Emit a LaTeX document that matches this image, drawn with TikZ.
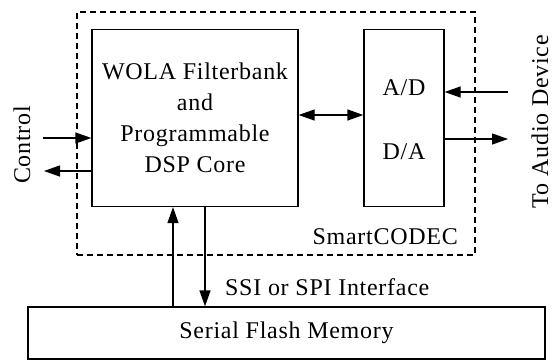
\documentclass[tikz,border=0pt]{standalone}
\usepackage{fontspec}
\setmainfont[LetterSpace=3]{Liberation Serif}
\usetikzlibrary{arrows.meta}
\begin{document}
\begin{tikzpicture}[x=1pt,y=-1pt,
  every node/.style={font=\fontsize{24}{31}\selectfont, inner sep=0pt},
  block/.style={draw, line width=1.3pt, minimum width=#1},
  arr/.style={line width=1.3pt, -{Triangle[length=16pt,width=11pt]}},
  dblarr/.style={line width=1.3pt, {Triangle[length=16pt,width=11pt]}-{Triangle[length=16pt,width=11pt]}}]
  \useasboundingbox (0,0) rectangle (557,360);
  % SmartCODEC boundary
  \node[draw, dashed, dash pattern=on 6pt off 4pt, line width=1.4pt,
        minimum width=398pt, minimum height=243pt] (chip) at (276,133.5) {};
  \node[anchor=east] (chipname) at (458,237) {SmartCODEC};
  % DSP core and converters
  \node[block=206pt, minimum height=177pt, align=center] (dsp) at (195,118)
    {WOLA Filterbank\\and\\Programmable\\DSP Core};
  \node[block=80pt, minimum height=177pt] (codec) at (404,118) {};
  \node (ad) at (404,88) {A/D};
  \node (da) at (404,152) {D/A};
  % external flash
  \node[block=517pt, minimum height=52pt] (flash) at (286.5,333) {Serial Flash Memory};
  % converter link
  \draw[dblarr] (dsp.east |- 0,115) -- (codec.west |- 0,115);
  % audio signals
  \coordinate (ain) at (508,92);
  \coordinate (aout) at (508,139);
  \draw[arr] (ain) -- (ain -| codec.east);
  \draw[arr] (codec.east |- aout) -- (aout);
  \node[rotate=90] (audio) at (540,122) {To Audio Device};
  % control lines
  \coordinate (cin) at (43,138);
  \coordinate (cout) at (44,171);
  \draw[arr] (cin) -- (cin -| dsp.west);
  \draw[arr] (dsp.west |- cout) -- (cout);
  \node[rotate=90] (ctrl) at (22,145) {Control};
  % serial interface
  \coordinate (up) at (173,0);
  \coordinate (dn) at (205,0);
  \draw[arr] (flash.north -| up) -- (dsp.south -| up);
  \draw[arr] (dsp.south -| dn) -- (flash.north -| dn);
  \node[anchor=west] (ssi) at (225,287) {SSI or SPI Interface};
\end{tikzpicture}
\end{document}
